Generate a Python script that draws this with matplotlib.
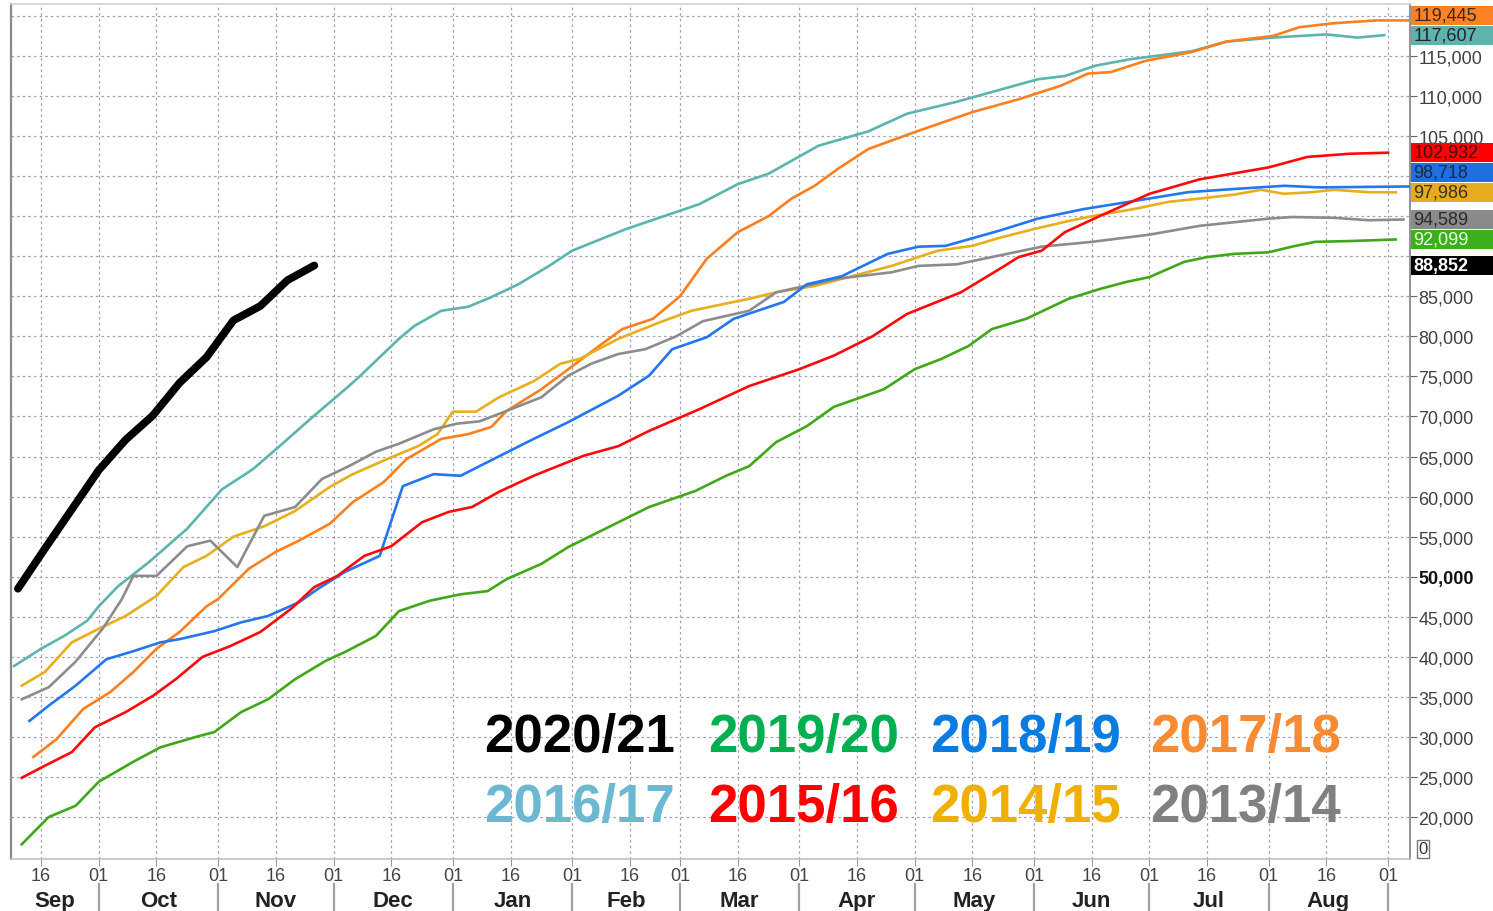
import numpy as np
import pandas as pd
import matplotlib
matplotlib.use("Agg")
import matplotlib.pyplot as plt
from matplotlib.patches import Rectangle
from matplotlib.transforms import blended_transform_factory

plt.rcParams['font.family'] = ['Liberation Sans', 'DejaVu Sans']

# x values are days since 1 Sep of the marketing year
d_2021 = [9, 16, 23, 30, 37, 44, 51, 58, 65, 72, 79, 86]
v_2021 = [48500, 53500, 58400, 63300, 67100, 70100, 74200, 77400, 82000, 83800, 87000, 88852]

d_1617 = [8, 15, 21, 27, 30, 35, 43, 53, 62, 70, 77, 85, 95, 98, 108, 112, 119, 126, 132, 139,
          147, 153, 167, 186, 196, 204, 217, 230, 240, 253, 262, 274, 281, 289, 298, 314, 323, 335, 349, 357, 364]
v_1617 = [38850, 41000, 42600, 44500, 46300, 48800, 51800, 56000, 60900, 63400, 66300, 69700, 73800, 75100,
          79700, 81300, 83200, 83700, 84900, 86500, 88800, 90700, 93400, 96500, 99000, 100300, 103800, 105600,
          107800, 109300, 110500, 112100, 112500, 113800, 114600, 115600, 116800, 117300, 117700, 117300, 117607]

d_1718 = [13, 19, 26, 33, 39, 45, 51, 58, 61, 69, 76, 82, 90, 96, 104, 110, 119, 126, 132, 136,
          145, 152, 160, 166, 174, 181, 188, 196, 204, 210, 216, 222, 230, 242, 257, 269, 280, 287, 293, 302,
          314, 323, 335, 342, 351, 362, 371]
v_1718 = [27500, 29700, 33500, 35600, 38100, 41000, 43100, 46300, 47200, 51000, 53100, 54500, 56600, 59300,
          61800, 64700, 67200, 67800, 68700, 70700, 73400, 75900, 78800, 80900, 82200, 85000, 89700, 93000,
          95000, 97200, 98800, 100900, 103400, 105500, 108000, 109600, 111300, 112800, 113000, 114400,
          115500, 116800, 117500, 118600, 119100, 119445, 119445]

d_1415 = [10, 16, 23, 30, 37, 45, 52, 58, 65, 73, 81, 90, 96, 105, 113, 118, 122, 128, 134, 143,
          150, 155, 165, 176, 184, 199, 206, 216, 228, 236, 248, 257, 264, 273, 282, 288, 299, 308, 316, 325,
          332, 338, 345, 351, 360, 367]
v_1415 = [36400, 38100, 41800, 43500, 45100, 47600, 51200, 52600, 55000, 56300, 58200, 61200, 62800, 64700,
          66300, 67800, 70600, 70600, 72400, 74400, 76600, 77200, 79700, 81800, 83200, 84700, 85500, 86300,
          87800, 88800, 90700, 91300, 92300, 93400, 94400, 95000, 95900, 96800, 97200, 97700, 98300, 97800,
          98000, 98300, 98000, 97986]

d_1314 = [10, 17, 24, 31, 36, 39, 45, 53, 59, 66, 73, 81, 88, 95, 102, 108, 117, 123, 129, 136,
          145, 152, 158, 165, 172, 180, 187, 199, 206, 222, 236, 243, 253, 263, 275, 288, 303, 316, 334, 340,
          351, 360, 369]
v_1314 = [34700, 36200, 39400, 43500, 47200, 50100, 50100, 53800, 54500, 51200, 57600, 58700, 62200, 63800,
          65600, 66600, 68400, 69100, 69400, 70700, 72400, 75100, 76600, 77800, 78400, 80000, 81900, 83200,
          85500, 87200, 88000, 88800, 89000, 90000, 91200, 91800, 92700, 93800, 94700, 94900, 94800, 94500, 94589]

d_1819 = [12, 17, 24, 32, 39, 46, 51, 60, 67, 74, 82, 87, 94, 103, 109, 117, 124, 131, 143, 152,
          165, 173, 179, 188, 195, 208, 214, 223, 235, 243, 250, 264, 274, 286, 299, 313, 325, 338, 347, 371]
v_1819 = [32000, 33900, 36400, 39700, 40700, 41800, 42200, 43200, 44300, 45100, 46800, 48500, 50600, 52600,
          61300, 62800, 62600, 64300, 67200, 69300, 72600, 75100, 78400, 79900, 82200, 84300, 86500, 87500,
          90300, 91200, 91300, 93200, 94700, 95900, 96900, 98000, 98400, 98800, 98600, 98718]

d_1516 = [10, 16, 23, 29, 37, 44, 50, 57, 64, 72, 80, 86, 92, 99, 106, 114, 121, 127, 134, 143,
          156, 165, 173, 186, 199, 212, 221, 231, 240, 254, 264, 269, 275, 281, 290, 303, 316, 328, 334, 344,
          355, 365]
v_1516 = [24900, 26400, 28100, 31200, 33100, 35100, 37200, 40000, 41300, 43100, 46000, 48700, 50100, 52600,
          53800, 56800, 58100, 58700, 60600, 62600, 65100, 66300, 68200, 70900, 73800, 75900, 77600, 80000,
          82800, 85500, 88400, 89900, 90700, 93000, 95000, 97800, 99600, 100600, 101100, 102400, 102800, 102932]

d_1920 = [10, 17, 24, 30, 39, 46, 56, 60, 67, 74, 81, 89, 94, 102, 108, 116, 124, 131, 136, 145,
          152, 160, 173, 185, 193, 199, 206, 214, 221, 234, 242, 249, 256, 262, 271, 282, 290, 297, 303, 312,
          318, 325, 334, 340, 346, 355, 367]
v_1920 = [16600, 20000, 21400, 24400, 26900, 28700, 30100, 30600, 33100, 34700, 37200, 39500, 40600, 42600,
          45700, 47000, 47800, 48200, 49700, 51600, 53700, 55600, 58700, 60700, 62600, 63800, 66800, 68800,
          71200, 73400, 75900, 77200, 78800, 80900, 82200, 84700, 85900, 86800, 87400, 89300, 89900, 90300,
          90500, 91200, 91800, 91900, 92099]

seasons = ['2020/21', '2019/20', '2018/19', '2017/18', '2016/17', '2015/16', '2014/15', '2013/14']
series = {
    '2016/17': (d_1617, v_1617, '#5cb4ae'),
    '2017/18': (d_1718, v_1718, '#ff7f1e'),
    '2014/15': (d_1415, v_1415, '#e8ae1c'),
    '2013/14': (d_1314, v_1314, '#8c8c8c'),
    '2018/19': (d_1819, v_1819, '#2277ee'),
    '2015/16': (d_1516, v_1516, '#ff0a0a'),
    '2019/20': (d_1920, v_1920, '#40a818'),
    '2020/21': (d_2021, v_2021, '#000000'),
}
legend_colors = {'2020/21': '#000000', '2019/20': '#00b050', '2018/19': '#0a7be0', '2017/18': '#f68b33',
                 '2016/17': '#6cb8d0', '2015/16': '#ff0000', '2014/15': '#f0b000', '2013/14': '#808080'}
box_colors = {'2017/18': ('#ff8126', '#3a2a1a'), '2016/17': ('#5fb3ad', '#223'),
              '2015/16': ('#ff0000', '#3a1010'), '2018/19': ('#1f6fe0', '#1a2a40'),
              '2014/15': ('#e6ac1e', '#3a3020'), '2013/14': ('#8a8a8a', '#2a2a2a'),
              '2019/20': ('#3cb01c', '#eaffe0'), '2020/21': ('#000000', '#ffffff')}

fig = plt.figure(figsize=(14.93, 9.12), dpi=100)
ax = fig.add_axes([11 / 1493, 52 / 912, 1399 / 1493, 855 / 912])
xmin, xmax = 7.2, 370.7
ymin, ymax = 14757, 121495
ax.set_xlim(xmin, xmax)
ax.set_ylim(ymin, ymax)

for name, (d, v, c) in series.items():
    if name == '2020/21':
        ax.plot(d, v, color=c, lw=5.6, solid_capstyle='round', solid_joinstyle='round', zorder=5)
    else:
        ax.plot(d, v, color=c, lw=1.9, zorder=3)

# x ticks: 1st and 16th of each month
base = pd.Timestamp('2020-09-01')
months = pd.date_range('2020-09-01', '2021-09-01', freq='MS')
starts = [(m - base).days for m in months]
ticks, labels = [], []
for s in starts:
    for off, lab in ((0, '01'), (15, '16')):
        if xmin <= s + off <= xmax:
            ticks.append(s + off)
            labels.append(lab)
ax.set_xticks(ticks)
ax.set_xticklabels(labels)
ax.tick_params(axis='x', direction='out', length=5, color='#999999', labelsize=13,
               labelcolor='#444444', pad=1)

# last-value boxes on the right axis: stack them so they do not overlap
ends = sorted([(series[n][1][-1], n) for n in series])
gap = 2500
centers = {}
prev = None
for val, n in ends:
    c = val if prev is None else max(val, prev + gap)
    centers[n] = c
    prev = c
shift = max(0, max(centers.values()) - (ymax - 1250))
for n in centers:
    centers[n] -= shift
half = 1200

yt = list(range(20000, 120001, 5000))
ax.set_yticks(yt)
ylabels = []
for t in yt:
    hidden = any(abs(t - c) < half + 800 for c in centers.values())
    ylabels.append('' if hidden else f'{t:,}')
ax.set_yticklabels(ylabels)
ax.yaxis.tick_right()
ax.tick_params(axis='y', direction='out', length=5, color='#666666', labelsize=13,
               labelcolor='#404040', pad=1)
for lab in ax.get_yticklabels():
    if lab.get_text() == '50,000':
        lab.set_fontweight('bold')
        lab.set_color('#111111')

ax.grid(True, linestyle=(0, (2, 2.5)), color='#a0a0ae', lw=0.9, zorder=0)
ax.set_axisbelow(True)
for side, col, lw in (('left', '#8a8a8a', 1.6), ('right', '#8a8a8a', 1.3),
                      ('top', '#d0d0d0', 1.2), ('bottom', '#c0c0c0', 1.2)):
    ax.spines[side].set_color(col)
    ax.spines[side].set_linewidth(lw)

# month names and separators
xt = ax.get_xaxis_transform()
for i, m in enumerate(months[:-1]):
    s, e = starts[i], starts[i + 1]
    mid = (max(s, xmin) + min(e, xmax)) / 2
    ax.text(mid, -0.048, m.strftime('%b'), transform=xt, ha='center', va='center',
            fontsize=16, fontweight='bold', color='#222222')
for s in starts[1:]:
    ax.plot([s, s], [-0.029, -0.064], transform=xt, color='#a0a0a0', lw=1.6, clip_on=False)

bt = blended_transform_factory(ax.transAxes, ax.transData)
for val, n in ends:
    c = centers[n]
    fc, tc = box_colors[n]
    ax.add_patch(Rectangle((1.0008, c - half), 0.062, 2 * half, transform=bt, facecolor=fc,
                           edgecolor='none', clip_on=False, zorder=6))
    ax.text(1.0025, c, f'{val:,}', transform=bt, ha='left', va='center', fontsize=13,
            color=tc, fontweight='bold' if n == '2020/21' else 'normal', zorder=7, clip_on=False)

ax.text(1.006, 0.012, '0', transform=ax.transAxes, ha='left', va='center', fontsize=12,
        color='#333333', bbox=dict(boxstyle='square,pad=0.1', fc='white', ec='#777777', lw=1))

# season legend
cols = [484, 708, 930, 1150]
rows = [752, 822]
for i, s in enumerate(seasons):
    x = cols[i % 4] / 1493
    y = (912 - rows[i // 4]) / 912
    fig.text(x, y, s, ha='left', va='baseline', fontsize=38, fontweight='bold',
             color=legend_colors[s])

fig.savefig('out.png', dpi=100)
